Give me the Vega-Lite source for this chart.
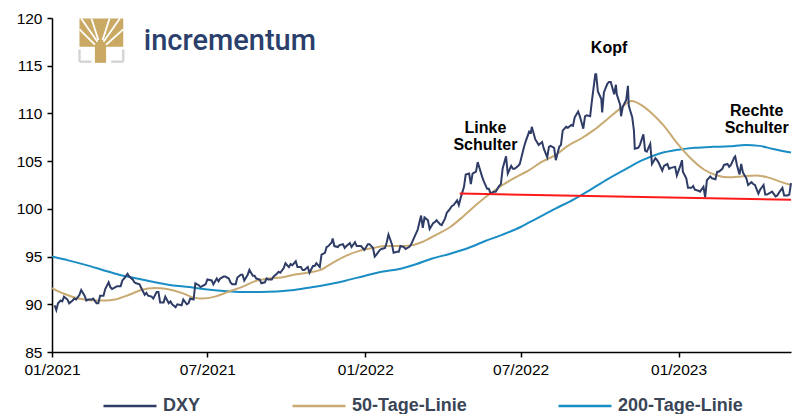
{
  "$schema": "https://vega.github.io/schema/vega-lite/v6.json",
  "width": 739,
  "height": 334,
  "autosize": {"type": "none"},
  "padding": {"left": 52, "top": 18, "right": 1, "bottom": 62},
  "background": "white",
  "config": {
    "view": {"stroke": null},
    "axis": {
      "grid": false,
      "domainColor": "#000000",
      "domainWidth": 1.5,
      "tickColor": "#000000",
      "tickWidth": 1.5,
      "tickSize": 5,
      "labelFont": "Liberation Sans",
      "labelFontSize": 15.5,
      "labelColor": "#000000",
      "labelPadding": 5,
      "title": null
    }
  },
  "datasets": {
    "dxy": [
      {"d":"2021-01-04","v":89.9},{"d":"2021-01-06","v":89.4},{"d":"2021-01-08","v":90.1},{"d":"2021-01-11","v":90.4},{"d":"2021-01-13","v":90.3},{"d":"2021-01-15","v":90.8},{"d":"2021-01-19","v":90.5},{"d":"2021-01-21","v":90.1},{"d":"2021-01-25","v":90.4},{"d":"2021-01-27","v":90.6},{"d":"2021-01-29","v":90.5},
      {"d":"2021-02-02","v":91.0},{"d":"2021-02-04","v":91.5},{"d":"2021-02-08","v":90.9},{"d":"2021-02-10","v":90.4},{"d":"2021-02-12","v":90.5},{"d":"2021-02-16","v":90.5},{"d":"2021-02-18","v":90.6},{"d":"2021-02-22","v":90.1},{"d":"2021-02-24","v":90.1},{"d":"2021-02-26","v":90.9},
      {"d":"2021-03-02","v":90.9},{"d":"2021-03-04","v":91.6},{"d":"2021-03-08","v":92.3},{"d":"2021-03-10","v":91.8},{"d":"2021-03-12","v":91.6},{"d":"2021-03-16","v":91.8},{"d":"2021-03-18","v":91.9},{"d":"2021-03-22","v":91.9},{"d":"2021-03-24","v":92.5},{"d":"2021-03-26","v":92.7},{"d":"2021-03-30","v":93.2},
      {"d":"2021-04-01","v":92.9},{"d":"2021-04-05","v":92.6},{"d":"2021-04-07","v":92.3},{"d":"2021-04-09","v":92.2},{"d":"2021-04-13","v":92.1},{"d":"2021-04-15","v":91.7},{"d":"2021-04-19","v":91.0},{"d":"2021-04-21","v":91.2},{"d":"2021-04-23","v":90.9},{"d":"2021-04-27","v":90.8},{"d":"2021-04-29","v":90.6},
      {"d":"2021-05-03","v":91.3},{"d":"2021-05-05","v":91.3},{"d":"2021-05-07","v":90.2},{"d":"2021-05-11","v":90.2},{"d":"2021-05-13","v":90.8},{"d":"2021-05-17","v":90.1},{"d":"2021-05-19","v":90.3},{"d":"2021-05-21","v":90.0},{"d":"2021-05-25","v":89.7},{"d":"2021-05-27","v":90.0},
      {"d":"2021-06-01","v":89.9},{"d":"2021-06-03","v":90.5},{"d":"2021-06-07","v":90.0},{"d":"2021-06-09","v":90.1},{"d":"2021-06-11","v":90.6},{"d":"2021-06-15","v":90.5},{"d":"2021-06-17","v":92.2},{"d":"2021-06-21","v":92.0},{"d":"2021-06-23","v":91.8},{"d":"2021-06-25","v":91.9},{"d":"2021-06-29","v":92.1},
      {"d":"2021-07-01","v":92.6},{"d":"2021-07-06","v":92.5},{"d":"2021-07-08","v":92.1},{"d":"2021-07-12","v":92.7},{"d":"2021-07-14","v":92.4},{"d":"2021-07-16","v":92.7},{"d":"2021-07-20","v":92.9},{"d":"2021-07-22","v":92.9},{"d":"2021-07-26","v":92.7},{"d":"2021-07-28","v":92.3},{"d":"2021-07-30","v":92.1},
      {"d":"2021-08-03","v":92.1},{"d":"2021-08-05","v":92.8},{"d":"2021-08-09","v":93.1},{"d":"2021-08-11","v":93.1},{"d":"2021-08-13","v":92.5},{"d":"2021-08-17","v":93.1},{"d":"2021-08-19","v":93.6},{"d":"2021-08-23","v":93.0},{"d":"2021-08-25","v":93.0},{"d":"2021-08-27","v":92.7},{"d":"2021-08-31","v":92.6},
      {"d":"2021-09-02","v":92.2},{"d":"2021-09-06","v":92.3},{"d":"2021-09-08","v":92.7},{"d":"2021-09-10","v":92.6},{"d":"2021-09-14","v":92.6},{"d":"2021-09-16","v":92.9},{"d":"2021-09-20","v":93.2},{"d":"2021-09-22","v":93.4},{"d":"2021-09-24","v":93.3},{"d":"2021-09-28","v":93.8},{"d":"2021-09-30","v":94.3},
      {"d":"2021-10-04","v":93.9},{"d":"2021-10-06","v":94.2},{"d":"2021-10-08","v":94.1},{"d":"2021-10-12","v":94.5},{"d":"2021-10-14","v":93.9},{"d":"2021-10-18","v":93.9},{"d":"2021-10-20","v":93.6},{"d":"2021-10-22","v":93.6},{"d":"2021-10-26","v":93.9},{"d":"2021-10-28","v":93.3},
      {"d":"2021-11-01","v":94.0},{"d":"2021-11-03","v":94.0},{"d":"2021-11-05","v":94.3},{"d":"2021-11-09","v":93.9},{"d":"2021-11-11","v":95.2},{"d":"2021-11-15","v":95.4},{"d":"2021-11-17","v":96.0},{"d":"2021-11-19","v":96.1},{"d":"2021-11-23","v":96.5},{"d":"2021-11-24","v":96.9},{"d":"2021-11-26","v":96.1},{"d":"2021-11-30","v":96.0},
      {"d":"2021-12-02","v":96.2},{"d":"2021-12-06","v":96.3},{"d":"2021-12-08","v":95.9},{"d":"2021-12-10","v":96.1},{"d":"2021-12-14","v":96.4},{"d":"2021-12-16","v":96.0},{"d":"2021-12-20","v":96.5},{"d":"2021-12-22","v":96.1},{"d":"2021-12-27","v":96.1},{"d":"2021-12-29","v":95.9},{"d":"2021-12-31","v":95.7},
      {"d":"2022-01-04","v":96.3},{"d":"2022-01-06","v":96.3},{"d":"2022-01-10","v":95.9},{"d":"2022-01-12","v":95.0},{"d":"2022-01-14","v":95.2},{"d":"2022-01-18","v":95.7},{"d":"2022-01-20","v":95.8},{"d":"2022-01-24","v":95.9},{"d":"2022-01-26","v":96.5},{"d":"2022-01-28","v":97.3},
      {"d":"2022-02-01","v":96.3},{"d":"2022-02-03","v":95.4},{"d":"2022-02-07","v":95.5},{"d":"2022-02-09","v":95.5},{"d":"2022-02-11","v":96.1},{"d":"2022-02-15","v":96.0},{"d":"2022-02-17","v":95.8},{"d":"2022-02-21","v":96.0},{"d":"2022-02-23","v":96.2},{"d":"2022-02-25","v":96.6},
      {"d":"2022-03-01","v":97.4},{"d":"2022-03-03","v":97.8},{"d":"2022-03-07","v":99.3},{"d":"2022-03-09","v":98.0},{"d":"2022-03-11","v":99.1},{"d":"2022-03-15","v":98.8},{"d":"2022-03-17","v":97.9},{"d":"2022-03-21","v":98.5},{"d":"2022-03-23","v":98.6},{"d":"2022-03-25","v":98.8},{"d":"2022-03-29","v":98.4},{"d":"2022-03-31","v":98.3},
      {"d":"2022-04-04","v":99.0},{"d":"2022-04-06","v":99.6},{"d":"2022-04-08","v":99.8},{"d":"2022-04-12","v":100.3},{"d":"2022-04-14","v":100.4},{"d":"2022-04-18","v":100.9},{"d":"2022-04-20","v":100.4},{"d":"2022-04-22","v":101.1},{"d":"2022-04-26","v":102.3},{"d":"2022-04-28","v":103.6},
      {"d":"2022-05-02","v":103.7},{"d":"2022-05-04","v":102.6},{"d":"2022-05-06","v":103.7},{"d":"2022-05-10","v":103.9},{"d":"2022-05-12","v":104.9},{"d":"2022-05-13","v":104.6},{"d":"2022-05-17","v":103.4},{"d":"2022-05-19","v":102.9},{"d":"2022-05-23","v":102.1},{"d":"2022-05-25","v":102.1},{"d":"2022-05-27","v":101.6},{"d":"2022-05-31","v":101.8},
      {"d":"2022-06-02","v":101.8},{"d":"2022-06-06","v":102.4},{"d":"2022-06-08","v":102.6},{"d":"2022-06-10","v":104.2},{"d":"2022-06-14","v":105.5},{"d":"2022-06-16","v":103.7},{"d":"2022-06-20","v":104.5},{"d":"2022-06-22","v":104.2},{"d":"2022-06-24","v":104.2},{"d":"2022-06-28","v":104.5},{"d":"2022-06-30","v":104.7},
      {"d":"2022-07-05","v":106.5},{"d":"2022-07-07","v":107.1},{"d":"2022-07-11","v":108.1},{"d":"2022-07-13","v":108.0},{"d":"2022-07-14","v":108.6},{"d":"2022-07-18","v":107.3},{"d":"2022-07-20","v":107.0},{"d":"2022-07-22","v":106.7},{"d":"2022-07-26","v":107.0},{"d":"2022-07-28","v":106.3},
      {"d":"2022-08-01","v":105.4},{"d":"2022-08-03","v":106.5},{"d":"2022-08-05","v":106.6},{"d":"2022-08-09","v":106.4},{"d":"2022-08-11","v":105.1},{"d":"2022-08-15","v":106.5},{"d":"2022-08-17","v":106.7},{"d":"2022-08-19","v":108.2},{"d":"2022-08-23","v":108.6},{"d":"2022-08-25","v":108.5},{"d":"2022-08-29","v":108.8},{"d":"2022-08-31","v":108.7},
      {"d":"2022-09-02","v":109.6},{"d":"2022-09-06","v":110.2},{"d":"2022-09-08","v":109.7},{"d":"2022-09-12","v":108.4},{"d":"2022-09-14","v":109.7},{"d":"2022-09-16","v":109.8},{"d":"2022-09-20","v":109.7},{"d":"2022-09-22","v":111.3},{"d":"2022-09-26","v":114.1},{"d":"2022-09-27","v":114.1},{"d":"2022-09-29","v":112.3},
      {"d":"2022-10-03","v":111.5},{"d":"2022-10-04","v":110.1},{"d":"2022-10-06","v":112.2},{"d":"2022-10-10","v":113.1},{"d":"2022-10-12","v":113.3},{"d":"2022-10-14","v":113.3},{"d":"2022-10-18","v":112.0},{"d":"2022-10-20","v":113.0},{"d":"2022-10-21","v":112.0},{"d":"2022-10-25","v":110.9},{"d":"2022-10-26","v":109.7},{"d":"2022-10-28","v":110.7},
      {"d":"2022-11-01","v":111.4},{"d":"2022-11-03","v":112.9},{"d":"2022-11-04","v":110.8},{"d":"2022-11-08","v":109.6},{"d":"2022-11-10","v":108.2},{"d":"2022-11-11","v":106.3},{"d":"2022-11-15","v":106.4},{"d":"2022-11-17","v":106.7},{"d":"2022-11-21","v":107.8},{"d":"2022-11-23","v":106.1},{"d":"2022-11-25","v":106.0},{"d":"2022-11-29","v":106.8},
      {"d":"2022-12-01","v":104.7},{"d":"2022-12-05","v":105.3},{"d":"2022-12-07","v":105.1},{"d":"2022-12-09","v":104.8},{"d":"2022-12-13","v":104.0},{"d":"2022-12-15","v":104.5},{"d":"2022-12-19","v":104.7},{"d":"2022-12-21","v":104.2},{"d":"2022-12-23","v":104.3},{"d":"2022-12-28","v":104.4},{"d":"2022-12-30","v":103.5},
      {"d":"2023-01-03","v":104.5},{"d":"2023-01-05","v":105.1},{"d":"2023-01-06","v":103.9},{"d":"2023-01-10","v":103.2},{"d":"2023-01-12","v":102.2},{"d":"2023-01-16","v":102.2},{"d":"2023-01-18","v":102.4},{"d":"2023-01-20","v":102.0},{"d":"2023-01-24","v":101.9},{"d":"2023-01-26","v":101.8},{"d":"2023-01-30","v":102.3},
      {"d":"2023-02-01","v":101.2},{"d":"2023-02-03","v":103.0},{"d":"2023-02-07","v":103.4},{"d":"2023-02-09","v":103.2},{"d":"2023-02-13","v":103.1},{"d":"2023-02-15","v":103.9},{"d":"2023-02-17","v":103.9},{"d":"2023-02-21","v":104.2},{"d":"2023-02-23","v":104.6},{"d":"2023-02-27","v":104.7},
      {"d":"2023-03-01","v":104.4},{"d":"2023-03-03","v":104.6},{"d":"2023-03-07","v":105.4},{"d":"2023-03-08","v":105.5},{"d":"2023-03-10","v":104.6},{"d":"2023-03-13","v":103.6},{"d":"2023-03-15","v":104.7},{"d":"2023-03-17","v":103.8},{"d":"2023-03-21","v":103.2},{"d":"2023-03-23","v":102.5},{"d":"2023-03-27","v":102.8},{"d":"2023-03-29","v":102.6},{"d":"2023-03-31","v":102.5},
      {"d":"2023-04-04","v":101.6},{"d":"2023-04-06","v":102.0},{"d":"2023-04-10","v":102.5},{"d":"2023-04-12","v":101.5},{"d":"2023-04-14","v":101.5},{"d":"2023-04-18","v":101.7},{"d":"2023-04-20","v":101.8},{"d":"2023-04-24","v":101.3},{"d":"2023-04-26","v":101.4},{"d":"2023-04-28","v":101.7},
      {"d":"2023-05-02","v":102.2},{"d":"2023-05-04","v":101.4},{"d":"2023-05-08","v":101.4},{"d":"2023-05-10","v":101.5},{"d":"2023-05-11","v":102.1},{"d":"2023-05-12","v":102.7}
    ],
    "ma50": [
      {"d":"2021-01-01","v":91.7},{"d":"2021-01-15","v":91.1},{"d":"2021-02-01","v":90.6},{"d":"2021-02-20","v":90.4},{"d":"2021-03-05","v":90.4},{"d":"2021-03-15","v":90.5},{"d":"2021-04-01","v":91.0},{"d":"2021-04-15","v":91.5},{"d":"2021-05-01","v":91.7},{"d":"2021-05-15","v":91.6},{"d":"2021-06-01","v":91.2},{"d":"2021-06-15","v":90.7},{"d":"2021-06-25","v":90.6},
      {"d":"2021-07-10","v":90.8},{"d":"2021-07-25","v":91.3},{"d":"2021-08-10","v":91.8},{"d":"2021-08-25","v":92.4},{"d":"2021-09-10","v":92.7},{"d":"2021-09-25","v":92.8},{"d":"2021-10-10","v":93.1},{"d":"2021-10-25","v":93.3},{"d":"2021-11-10","v":93.6},{"d":"2021-11-25","v":94.4},{"d":"2021-12-10","v":95.1},{"d":"2021-12-25","v":95.6},
      {"d":"2022-01-10","v":95.9},{"d":"2022-01-25","v":96.1},{"d":"2022-02-10","v":96.1},{"d":"2022-02-25","v":96.2},{"d":"2022-03-10","v":96.6},{"d":"2022-03-25","v":97.3},{"d":"2022-04-10","v":98.1},{"d":"2022-04-25","v":99.2},{"d":"2022-05-10","v":100.4},{"d":"2022-05-25","v":101.5},{"d":"2022-06-10","v":102.5},{"d":"2022-06-25","v":103.3},
      {"d":"2022-07-10","v":104.0},{"d":"2022-07-25","v":104.9},{"d":"2022-08-10","v":105.6},{"d":"2022-08-25","v":106.6},{"d":"2022-09-10","v":107.4},{"d":"2022-09-25","v":108.3},{"d":"2022-10-10","v":109.4},{"d":"2022-10-25","v":110.5},{"d":"2022-11-07","v":111.3},{"d":"2022-11-20","v":110.8},{"d":"2022-12-01","v":110.0},{"d":"2022-12-15","v":108.7},{"d":"2022-12-31","v":106.8},
      {"d":"2023-01-15","v":105.3},{"d":"2023-01-31","v":104.1},{"d":"2023-02-15","v":103.5},{"d":"2023-03-01","v":103.3},{"d":"2023-03-15","v":103.4},{"d":"2023-04-01","v":103.5},{"d":"2023-04-15","v":103.3},{"d":"2023-05-01","v":102.8},{"d":"2023-05-12","v":102.5}
    ],
    "ma200": [
      {"d":"2021-01-01","v":95.0},{"d":"2021-01-20","v":94.6},{"d":"2021-02-10","v":94.1},{"d":"2021-03-01","v":93.6},{"d":"2021-03-20","v":93.1},{"d":"2021-04-10","v":92.7},{"d":"2021-05-01","v":92.3},{"d":"2021-05-20","v":92.0},{"d":"2021-06-10","v":91.8},{"d":"2021-07-01","v":91.55},{"d":"2021-07-20","v":91.4},{"d":"2021-08-10","v":91.3},{"d":"2021-09-01","v":91.3},{"d":"2021-09-20","v":91.35},{"d":"2021-10-10","v":91.5},{"d":"2021-11-01","v":91.8},{"d":"2021-11-20","v":92.1},{"d":"2021-12-10","v":92.5},
      {"d":"2022-01-01","v":93.0},{"d":"2022-01-20","v":93.4},{"d":"2022-02-10","v":93.7},{"d":"2022-03-01","v":94.2},{"d":"2022-03-20","v":94.8},{"d":"2022-04-10","v":95.3},{"d":"2022-05-01","v":95.9},{"d":"2022-05-20","v":96.6},{"d":"2022-06-10","v":97.3},{"d":"2022-07-01","v":98.1},{"d":"2022-07-20","v":99.0},{"d":"2022-08-10","v":100.0},{"d":"2022-09-01","v":101.0},{"d":"2022-09-20","v":102.0},{"d":"2022-10-10","v":103.1},{"d":"2022-11-01","v":104.2},{"d":"2022-11-20","v":105.1},{"d":"2022-12-10","v":105.8},
      {"d":"2023-01-01","v":106.2},{"d":"2023-01-20","v":106.4},{"d":"2023-02-10","v":106.5},{"d":"2023-03-01","v":106.55},{"d":"2023-03-20","v":106.7},{"d":"2023-04-05","v":106.6},{"d":"2023-04-20","v":106.3},{"d":"2023-05-12","v":105.9}
    ]
  },
  "layer": [
    {
      "data": {"name": "ma200"},
      "mark": {"type": "line", "strokeWidth": 2, "interpolate": "monotone"},
      "encoding": {
        "x": {
          "field": "d", "type": "temporal",
          "scale": {"domain": [{"year": 2021, "month": 1, "date": 1}, {"year": 2023, "month": 5, "date": 12}]},
          "axis": {
            "format": "%m/%Y",
            "labelFlush": false,
            "labelOverlap": false,
            "values": [
              {"year": 2021, "month": 1, "date": 1},
              {"year": 2021, "month": 7, "date": 1},
              {"year": 2022, "month": 1, "date": 1},
              {"year": 2022, "month": 7, "date": 1},
              {"year": 2023, "month": 1, "date": 1}
            ]
          }
        },
        "y": {
          "field": "v", "type": "quantitative",
          "scale": {"domain": [85, 120], "nice": false, "zero": false},
          "axis": {"values": [85, 90, 95, 100, 105, 110, 115, 120]}
        },
        "color": {
          "datum": "200-Tage-Linie",
          "scale": {"domain": ["DXY", "50-Tage-Linie", "200-Tage-Linie"], "range": ["#2E3C66", "#C8AA72", "#1A8DC4"]},
          "legend": {
            "orient": "none",
            "legendX": 50,
            "legendY": 360,
            "direction": "horizontal",
            "title": null,
            "symbolType": "stroke",
            "symbolSize": 2809,
            "symbolStrokeWidth": 2.5,
            "labelFont": "Liberation Sans",
            "labelFontSize": 18,
            "labelFontWeight": "bold",
            "labelColor": "#3A4556",
            "labelOffset": 5,
            "labelLimit": 300,
            "columnPadding": 86,
            "padding": 0
          }
        }
      }
    },
    {
      "data": {"name": "ma50"},
      "mark": {"type": "line", "strokeWidth": 2, "interpolate": "monotone"},
      "encoding": {
        "x": {"field": "d", "type": "temporal"},
        "y": {"field": "v", "type": "quantitative"},
        "color": {"datum": "50-Tage-Linie"}
      }
    },
    {
      "data": {"name": "dxy"},
      "mark": {"type": "line", "strokeWidth": 2},
      "encoding": {
        "x": {"field": "d", "type": "temporal"},
        "y": {"field": "v", "type": "quantitative"},
        "color": {"datum": "DXY"}
      }
    },
    {
      "data": {"values": [{"d": "2022-04-21", "v": 101.6}, {"d": "2023-05-12", "v": 100.95}]},
      "mark": {"type": "line", "strokeWidth": 2, "color": "#FF1A1A"},
      "encoding": {
        "x": {"field": "d", "type": "temporal"},
        "y": {"field": "v", "type": "quantitative"}
      }
    },
    {
      "data": {"values": [
        {"d": "2022-05-21", "v": 108.5, "t": "Linke\nSchulter"},
        {"d": "2022-10-12", "v": 116.85, "t": "Kopf"},
        {"d": "2023-04-02", "v": 110.25, "t": "Rechte\nSchulter"}
      ]},
      "mark": {"type": "text", "font": "Liberation Sans", "fontWeight": "bold", "fontSize": 16, "lineBreak": "\n", "lineHeight": 17, "align": "center", "baseline": "middle", "color": "#000000"},
      "encoding": {
        "x": {"field": "d", "type": "temporal"},
        "y": {"field": "v", "type": "quantitative"},
        "text": {"field": "t", "type": "nominal"}
      }
    },
    {
      "data": {"values": [
        {"d": "2021-02-02", "d2": "2021-03-25", "v": 119.95, "v2": 117.0},
        {"d": "2021-02-20", "d2": "2021-03-05", "v": 117.6, "v2": 115.3}
      ]},
      "mark": {"type": "rect", "color": "#C9A964"},
      "encoding": {
        "x": {"field": "d", "type": "temporal"},
        "x2": {"field": "d2"},
        "y": {"field": "v", "type": "quantitative"},
        "y2": {"field": "v2"}
      }
    },
    {
      "data": {"values": [
        {"d": "2021-02-23", "v": 117.5, "d2": "2021-02-04", "v2": 119.95},
        {"d": "2021-02-24", "v": 117.7, "d2": "2021-02-16", "v2": 119.95},
        {"d": "2021-03-01", "v": 117.7, "d2": "2021-03-09", "v2": 119.95},
        {"d": "2021-03-02", "v": 117.5, "d2": "2021-03-21", "v2": 119.95},
        {"d": "2021-02-20", "v": 117.2, "d2": "2021-02-02", "v2": 118.8},
        {"d": "2021-03-05", "v": 117.2, "d2": "2021-03-25", "v2": 118.8}
      ]},
      "mark": {"type": "rule", "color": "#FFFFFF", "strokeWidth": 1.8},
      "encoding": {
        "x": {"field": "d", "type": "temporal"},
        "x2": {"field": "d2"},
        "y": {"field": "v", "type": "quantitative"},
        "y2": {"field": "v2"}
      }
    },
    {
      "data": {"values": [
        {"d": "2021-02-02", "v": 115.42, "d2": "2021-02-16", "v2": 115.42},
        {"d": "2021-02-02", "v": 116.7, "d2": "2021-02-02", "v2": 115.42},
        {"d": "2021-03-11", "v": 115.42, "d2": "2021-03-25", "v2": 115.42},
        {"d": "2021-03-25", "v": 116.7, "d2": "2021-03-25", "v2": 115.42}
      ]},
      "mark": {"type": "rule", "color": "#D5D5D5", "strokeWidth": 2.5},
      "encoding": {
        "x": {"field": "d", "type": "temporal"},
        "x2": {"field": "d2"},
        "y": {"field": "v", "type": "quantitative"},
        "y2": {"field": "v2"}
      }
    },
    {
      "data": {"values": [{"d": "2021-04-18", "v": 116.63, "t": "incrementum"}]},
      "mark": {"type": "text", "font": "Roboto", "fontWeight": 500, "fontSize": 29, "align": "left", "baseline": "alphabetic", "color": "#2B3F6C"},
      "encoding": {
        "x": {"field": "d", "type": "temporal"},
        "y": {"field": "v", "type": "quantitative"},
        "text": {"field": "t", "type": "nominal"}
      }
    }
  ]
}
